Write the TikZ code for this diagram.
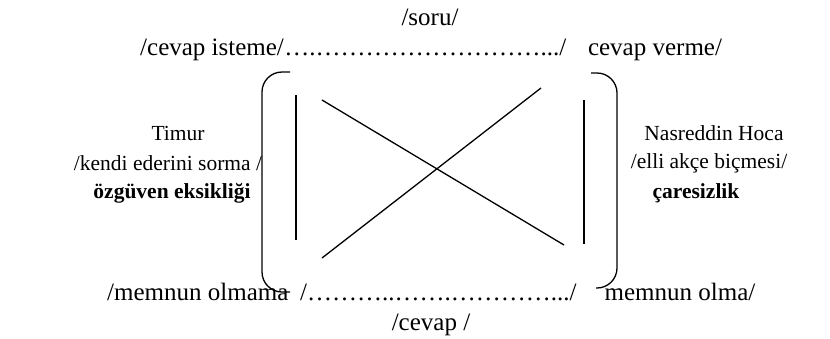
\documentclass[tikz,border=0pt]{standalone}
\usepackage{fontspec}
\setmainfont{Liberation Serif}
\usepackage{tikz}

\begin{document}
\begin{tikzpicture}[x=1pt,y=-1pt,
		yazi/.style={inner sep=0pt,anchor=base,font=\fontsize{25}{29}\selectfont},
		orta/.style={inner sep=0pt,font=\fontsize{21.5}{25}\selectfont},
		kalin/.style={orta,font=\fontsize{21.5}{25}\selectfont\bfseries},
		cizgi/.style={line width=1.3pt}]
			%%%%% START %%%%%
			\useasboundingbox (0, 0) rectangle (830, 338);
			
			\node[yazi] (soru) at (430, 25) {/soru/};
			\node[yazi, anchor=base west] (istek) at (140, 55) {/cevap isteme/};
			\node[yazi, anchor=base west] (noktalar) at (istek.base east) {\dots.\dots\dots\dots\dots\dots\dots\dots\dots\dots.../};
			\node[yazi] (verme) at (655, 55) {cevap verme/};
			
			\node[orta] (timur) at (178, 133) {Timur};
			\node[orta] (kendi) at (168, 163) {/kendi ederini sorma /};
			\node[kalin] (ozguven) at (172, 193) {özgüven eksikliği};
			
			\node[orta] (hoca) at (714, 133) {Nasreddin Hoca};
			\node[orta] (elli) at (709, 163) {/elli akçe biçmesi/};
			\node[kalin] (caresiz) at (696, 193) {çaresizlik};
			
			\draw[cizgi, rounded corners=20pt] (290, 72) -- (262, 72) -- (262, 292) -- (290, 292);
			\draw[cizgi, rounded corners=20pt] (591, 73) -- (617, 73) -- (617, 288) -- (596, 288);
			
			\draw[cizgi] (296, 95) -- (296, 240);
			\draw[cizgi] (584, 100) -- (584, 244);
			\draw[cizgi] (322, 100) -- (564, 245);
			\draw[cizgi] (322, 258) -- (541, 88);
			
			\node[yazi, anchor=base west] (olmama) at (107, 300) {/memnun olmama};
			\node[yazi, anchor=base west] (noktalar2) at (300, 300) {/\dots\dots\dots..\dots\dots.\dots\dots\dots\dots.../};
			\node[yazi] (olma) at (680, 300) {memnun olma/};
			\node[yazi] (cevap) at (431, 330) {/cevap /};
			%%%%% END %%%%%
\end{tikzpicture}
\end{document}
